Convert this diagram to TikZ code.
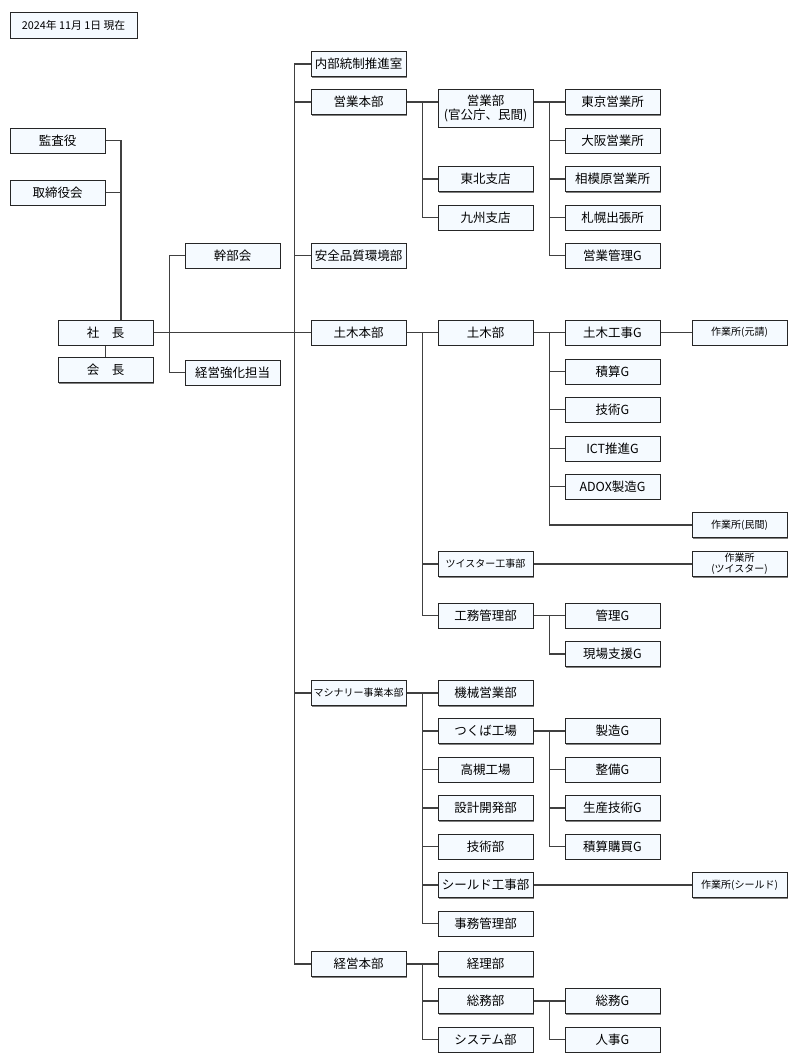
\documentclass[tikz,border=0pt]{standalone}
\usepackage{fontspec}
\setmainfont{Noto Sans CJK JP}
\usetikzlibrary{shadows,backgrounds}
\definecolor{boxfill}{RGB}{245,250,255}
\tikzset{
  unit/.style={draw=black!85, fill=boxfill, line width=0.9pt,
    minimum width=95pt, minimum height=25pt, inner sep=1pt,
    font=\fontsize{12.5}{14}\selectfont,
    drop shadow={shadow xshift=1.2pt, shadow yshift=-1.2pt, fill=black!50, opacity=1}},
  smalltext/.style={font=\fontsize{10}{11}\selectfont},
  link/.style={draw=black!75, line width=1.1pt}
}
\begin{document}
\begin{tikzpicture}[x=1pt, y=-1pt]
  \useasboundingbox (0,0) rectangle (798,1064);
  % date
  \node[unit, font=\fontsize{10.8}{12}\selectfont, minimum width=127pt, minimum height=26pt] (date) at (73.5,25) {2024年 11月 1日 現在};
  % top
  \node[unit] (kansa) at (57.5,140.5) {監査役};
  \node[unit] (board) at (57.5,192.5) {取締役会};
  \node[unit] (shacho) at (105.5,332.5) {社　長};
  \node[unit] (kaicho) at (105.5,370) {会　長};
  \node[unit] (kanbu) at (232.5,255.5) {幹部会};
  \node[unit] (kyoka) at (232.5,372.5) {経営強化担当};
  % honbu
  \node[unit] (naibu) at (358.5,64) {内部統制推進室};
  \node[unit] (eigyohq) at (358.5,102) {営業本部};
  \node[unit] (anzen) at (358.5,255.5) {安全品質環境部};
  \node[unit] (dobokuhq) at (358.5,332.5) {土木本部};
  \node[unit, smalltext] (machinehq) at (358.5,693) {マシナリー事業本部};
  \node[unit] (keieihq) at (358.5,964) {経営本部};
  % bu
  \node[unit, align=center, minimum height=38pt, inner sep=0pt] (eigyobu) at (485.5,108) {営業部\\(官公庁、民間)};
  \node[unit] (tohoku) at (485.5,179) {東北支店};
  \node[unit] (kyushu) at (485.5,217.5) {九州支店};
  \node[unit] (dobokubu) at (485.5,332.5) {土木部};
  \node[unit, smalltext] (twister) at (485.5,564) {ツイスター工事部};
  \node[unit] (komu) at (485.5,615.5) {工務管理部};
  \node[unit] (kikai) at (485.5,693) {機械営業部};
  \node[unit] (tsukuba) at (485.5,731) {つくば工場};
  \node[unit] (takatsuki) at (485.5,769.5) {高槻工場};
  \node[unit] (sekkei) at (485.5,808) {設計開発部};
  \node[unit] (gijutsubu) at (485.5,846.5) {技術部};
  \node[unit] (shield) at (485.5,885) {シールド工事部};
  \node[unit] (jimu) at (485.5,923.5) {事務管理部};
  \node[unit] (keiri) at (485.5,964) {経理部};
  \node[unit] (somubu) at (485.5,1001) {総務部};
  \node[unit] (system) at (485.5,1039.5) {システム部};
  % groups
  \node[unit] (tokyo) at (612.5,102) {東京営業所};
  \node[unit] (osaka) at (612.5,140.5) {大阪営業所};
  \node[unit] (sagami) at (612.5,179) {相模原営業所};
  \node[unit] (sapporo) at (612.5,217.5) {札幌出張所};
  \node[unit] (eigyog) at (612.5,255.5) {営業管理G};
  \node[unit] (kojig) at (612.5,332.5) {土木工事G};
  \node[unit] (sekisang) at (612.5,371.5) {積算G};
  \node[unit] (gijutsug) at (612.5,409.5) {技術G};
  \node[unit] (ictg) at (612.5,448.5) {ICT推進G};
  \node[unit] (adoxg) at (612.5,486.5) {ADOX製造G};
  \node[unit] (kanrig) at (612.5,615.5) {管理G};
  \node[unit] (genbag) at (612.5,654) {現場支援G};
  \node[unit] (seizog) at (612.5,731) {製造G};
  \node[unit] (seibig) at (612.5,769.5) {整備G};
  \node[unit] (seisang) at (612.5,808) {生産技術G};
  \node[unit] (konyug) at (612.5,846.5) {積算購買G};
  \node[unit] (somug) at (612.5,1001) {総務G};
  \node[unit] (jinjig) at (612.5,1039.5) {人事G};
  % sites
  \node[unit, smalltext] (motouke) at (739.5,332.5) {作業所(元請)};
  \node[unit, smalltext] (minkan) at (739.5,525) {作業所(民間)};
  \node[unit, smalltext, align=center, inner sep=0pt] (twistsite) at (739.5,564) {作業所\\(ツイスター)};
  \node[unit, smalltext] (shieldsite) at (739.5,885) {作業所(シールド)};

  % connectors, behind the boxes
  \begin{scope}[on background layer]
  \draw[link] (kansa.east) -| ([xshift=15.5pt]shacho.north);
  \draw[link] (board.east) -- (board.east -| kansa.east) -- ++(16,0);
  \draw[link] (shacho) -- (kaicho);
  \draw[link] (shacho.east) -- (dobokuhq.west);
  \foreach \c in {kanbu, kyoka}
    \draw[link] (shacho.east) -- ++(16,0) |- (\c.west);
  \foreach \c in {naibu, eigyohq, anzen, machinehq, keieihq}
    \draw[link] (dobokuhq.west) -- ++(-16,0) |- (\c.west);
  \foreach \c in {tohoku, kyushu}
    \draw[link] (eigyohq.east) -- ++(16,0) |- (\c.west);
  \draw[link] (eigyohq.east) -- (eigyohq.east -| eigyobu.west);
  \foreach \c in {tokyo, osaka, sagami, sapporo, eigyog}
    \draw[link] (tokyo.west -| eigyobu.east) -- ++(16,0) |- (\c.west);
  \foreach \c in {dobokubu, twister, komu}
    \draw[link] (dobokuhq.east) -- ++(16,0) |- (\c.west);
  \foreach \c in {kojig, sekisang, gijutsug, ictg, adoxg, minkan}
    \draw[link] (dobokubu.east) -- ++(16,0) |- (\c.west);
  \draw[link] (kojig) -- (motouke);
  \draw[link] (twister) -- (twistsite);
  \foreach \c in {kanrig, genbag}
    \draw[link] (komu.east) -- ++(16,0) |- (\c.west);
  \foreach \c in {kikai, tsukuba, takatsuki, sekkei, gijutsubu, shield, jimu}
    \draw[link] (machinehq.east) -- ++(16,0) |- (\c.west);
  \foreach \c in {seizog, seibig, seisang, konyug}
    \draw[link] (tsukuba.east) -- ++(16,0) |- (\c.west);
  \draw[link] (shield) -- (shieldsite);
  \foreach \c in {keiri, somubu, system}
    \draw[link] (keieihq.east) -- ++(16,0) |- (\c.west);
  \foreach \c in {somug, jinjig}
    \draw[link] (somubu.east) -- ++(16,0) |- (\c.west);
  \end{scope}
\end{tikzpicture}
\end{document}
